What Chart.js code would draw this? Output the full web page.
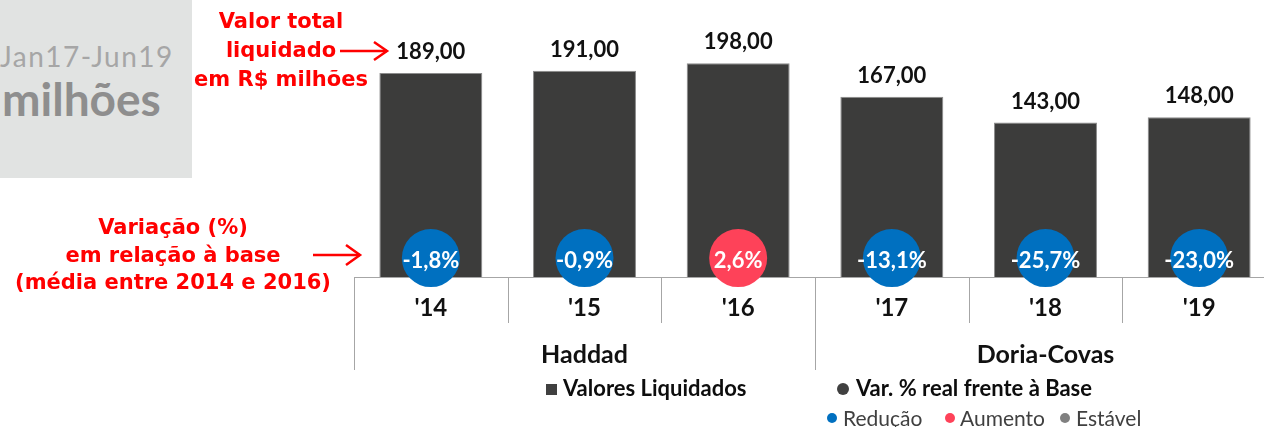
<!DOCTYPE html>
<html lang="pt-BR">
<head>
<meta charset="utf-8">
<title>Valores liquidados</title>
<script src="https://cdn.jsdelivr.net/npm/chart.js@4.4.1/dist/chart.umd.min.js"></script>
<style>
  body { margin: 0; width: 1264px; height: 427px; overflow: hidden; background: #fff; position: relative; font-family: Lato, sans-serif; }
  #chart { position: absolute; left: 0; top: 0; }
  .caixa { position: absolute; left: 0; top: 0; width: 192px; height: 178px; background: #e1e3e2; overflow: hidden; }
  .caixa .periodo { position: absolute; left: 0; top: 42px; font-size: 28px; line-height: 28px; color: #a6a6a6; letter-spacing: 1.5px; white-space: nowrap; }
  .caixa .unidade { position: absolute; left: 2px; top: 76px; font-size: 46px; line-height: 46px; font-weight: 700; color: #8e8e8e; white-space: nowrap; }
  .nota { position: absolute; color: #ff0000; font-family: "DejaVu Sans", sans-serif; font-weight: bold; font-size: 21px; text-align: center; white-space: nowrap; }
  .seta { position: absolute; left: 0; top: 0; }
  .leg { position: absolute; white-space: nowrap; }
  .leg.forte { font-weight: 700; font-size: 22px; line-height: 26px; color: #0d0d0d; top: 375px; }
  .leg.fraca { font-size: 21px; line-height: 25px; color: #404040; top: 405px; }
  .marca { position: absolute; }
</style>
</head>
<body>
<canvas id="chart" width="1290" height="380"></canvas>

<div class="caixa">
  <div class="periodo">Jan17-Jun19</div>
  <div class="unidade">milhões</div>
</div>

<div class="nota" style="left:181px; top:7px; width:200px; line-height:29px;">Valor total<br>liquidado<br>em R$ milhões</div>
<div class="nota" style="left:3px; top:214px; width:340px; line-height:27.5px;">Variação (%)<br>em relação à base<br>(média entre 2014 e 2016)</div>

<svg class="seta" width="420" height="300">
  <g stroke="#ff0000" stroke-width="2.5" fill="none">
    <line x1="340" y1="51" x2="387" y2="51"/>
    <polyline points="374,42 387,51 374,60"/>
    <line x1="313" y1="255" x2="360" y2="255"/>
    <polyline points="346,245 360,255 346,265"/>
  </g>
</svg>

<div class="marca" style="left:546px; top:384px; width:11px; height:11px; background:#404040;"></div>
<div class="leg forte" style="left:563px;">Valores Liquidados</div>
<div class="marca" style="left:837px; top:383px; width:12px; height:12px; border-radius:50%; background:#404040;"></div>
<div class="leg forte" style="left:856px;">Var. % real frente à Base</div>

<div class="marca" style="left:827px; top:413px; width:10px; height:10px; border-radius:50%; background:#0070c0;"></div>
<div class="leg fraca" style="left:843px;">Redução</div>
<div class="marca" style="left:945px; top:413px; width:10px; height:10px; border-radius:50%; background:#fe4259;"></div>
<div class="leg fraca" style="left:960px;">Aumento</div>
<div class="marca" style="left:1060px; top:413px; width:10px; height:10px; border-radius:50%; background:#808080;"></div>
<div class="leg fraca" style="left:1076px;">Estável</div>

<script>
// dados
const anos = ["'14", "'15", "'16", "'17", "'18", "'19"];
const valores = [189, 191, 198, 167, 143, 148];
const variacao = [-1.8, -0.9, 2.6, -13.1, -25.7, -23.0];
const gestoes = ['Haddad', 'Doria-Covas'];
const anosPorGestao = [3, 3];

// altura (em unidades do eixo) onde ficam as bolinhas de variação
const NIVEL_BOLINHA = 17.5;

function corVariacao(v) {
    if (Math.abs(v) < 0.5) return '#808080';
    return v < 0 ? '#0070c0' : '#fe4259';
}

function fmt(v, casas) {
    return v.toFixed(casas).replace('.', ',');
}

const rotulos = {
    id: 'rotulos',
    beforeDatasetsDraw(chart) {
        const ctx = chart.ctx;
        const x = chart.scales.x;
        const base = chart.chartArea.bottom;
        const meio = (i) => (x.getPixelForValue(i - 1) + x.getPixelForValue(i)) / 2;
        const borda = (i) => i === 0 ? chart.chartArea.left : (i === anos.length ? chart.chartArea.right : meio(i));

        ctx.save();
        ctx.strokeStyle = '#a6a6a6';
        ctx.lineWidth = 1;
        // divisões entre anos e entre gestões
        let inicio = 0;
        const limites = [0];
        anosPorGestao.forEach(n => { inicio += n; limites.push(inicio); });
        for (let i = 0; i <= anos.length; i++) {
            const px = Math.round(borda(i)) + 0.5;
            const fundo = limites.includes(i) ? base + 93 : base + 46;
            ctx.beginPath();
            ctx.moveTo(px, base);
            ctx.lineTo(px, fundo);
            ctx.stroke();
        }
        // nomes das gestões
        ctx.fillStyle = '#111';
        ctx.font = 'bold 25px Lato';
        ctx.textAlign = 'center';
        ctx.textBaseline = 'alphabetic';
        gestoes.forEach((g, k) => {
            const cx = (borda(limites[k]) + borda(limites[k + 1])) / 2;
            ctx.fillText(g, cx, base + 86);
        });
        ctx.restore();
    },
    afterDatasetsDraw(chart) {
        const ctx = chart.ctx;
        ctx.save();
        ctx.textAlign = 'center';
        ctx.textBaseline = 'alphabetic';
        ctx.font = 'bold 22px Lato';
        ctx.fillStyle = '#111';
        chart.getDatasetMeta(0).data.forEach((bar, i) => {
            ctx.fillText(fmt(valores[i], 2), bar.x, bar.y - 14);
        });
        ctx.fillStyle = '#fff';
        chart.getDatasetMeta(1).data.forEach((pt, i) => {
            ctx.fillText(fmt(variacao[i], 1) + '%', pt.x, pt.y + 10);
        });
        ctx.restore();
    }
};

const ctx = document.getElementById('chart').getContext('2d');
new Chart(ctx, {
    data: {
        labels: anos,
        datasets: [{
            type: 'bar',
            label: 'Valores Liquidados',
            data: valores,
            backgroundColor: '#3c3c3b',
            borderColor: '#8c8c8c',
            borderWidth: 1,
            barPercentage: 0.67,
            categoryPercentage: 1.0,
            order: 1
        }, {
            type: 'line',
            label: 'Var. % real frente à Base',
            data: variacao.map(() => NIVEL_BOLINHA),
            showLine: false,
            pointRadius: 29,
            pointHoverRadius: 29,
            pointBorderWidth: 0,
            pointBackgroundColor: variacao.map(corVariacao),
            clip: false,
            order: 0
        }]
    },
    options: {
        responsive: false,
        animation: false,
        events: [],
        layout: { autoPadding: false, padding: { left: 354, right: 14, top: 7, bottom: 0 } },
        plugins: {
            legend: { display: false },
            tooltip: { enabled: false }
        },
        scales: {
            x: {
                grid: { display: false },
                border: { display: true, color: '#a6a6a6', width: 1 },
                ticks: {
                    color: '#111',
                    font: { family: 'Lato', size: 24, weight: 'bold' },
                    padding: 9
                },
                afterFit(scale) { scale.height = 103; }
            },
            y: {
                display: false,
                min: 0,
                max: 250
            }
        }
    },
    plugins: [rotulos]
});
</script>
</body>
</html>
